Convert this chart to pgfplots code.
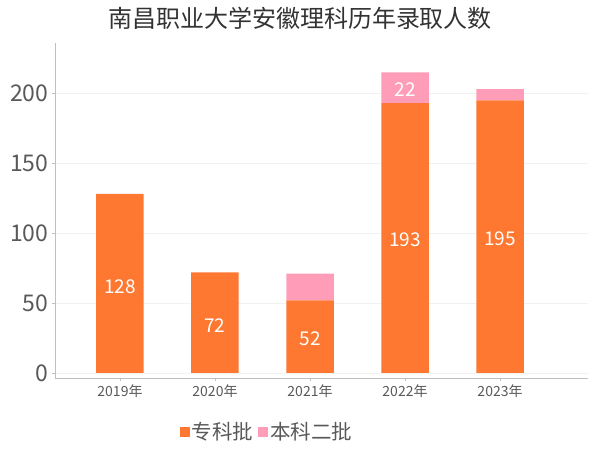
\documentclass[border=0pt]{standalone}
\usepackage{pgfplots}
\pgfplotsset{compat=1.18}
\usepackage{fontspec}
\setmainfont{Noto Sans CJK SC}
\definecolor{cOrange}{HTML}{FF7832}
\definecolor{cPink}{HTML}{FF9DB9}
\definecolor{cText}{HTML}{595959}
\definecolor{cAxis}{HTML}{BFBFBF}
\pgfplotsset{myframe/.style={
  at={(55pt,72pt)}, anchor=south west,
  scale only axis, width=533pt, height=335pt,
  xmin=-0.684, xmax=4.926, ymin=-3.6, ymax=236}}
\begin{document}
\begin{tikzpicture}[x=1pt,y=1pt]
\useasboundingbox (0,0) rectangle (600,450);
\node[text=black!80, font=\fontsize{24}{26}\selectfont] at (300,432) {南昌职业大学安徽理科历年录取人数};
\begin{axis}[
  myframe,
  ybar stacked, bar width=0.5,
  axis x line=bottom, axis y line=left,
  axis line style={draw=cAxis, -},
  tick style={draw=cAxis},
  tick align=outside, major tick length=3pt,
  xtick={0,1,2,3,4},
  xticklabels={2019年,2020年,2021年,2022年,2023年},
  ytick={0,50,100,150,200},
  ymajorgrids, grid style={draw=black!5},
  /pgf/number format/assume math mode=true,
  xticklabel style={text=cText, font=\fontsize{14}{16}\selectfont},
  yticklabel style={text=cText, font=\fontsize{23}{25}\selectfont},
  legend columns=2,
  legend style={draw=none, fill=none, at={(0.398,-0.161)}, anchor=center,
    font=\fontsize{20.5}{22}\selectfont, text=cText,
    /tikz/every even column/.append style={column sep=3pt}},
  legend image code/.code={\fill[#1] (0pt,-5pt) rectangle (10pt,5pt);},
]
\addplot+[fill=cOrange, draw=none] coordinates {(0,128) (1,72) (2,52) (3,193) (4,195)};
\addlegendentry{专科批}
\addplot+[fill=cPink, draw=none] coordinates {(0,0) (1,0) (2,19) (3,22) (4,8)};
\addlegendentry{本科二批}
\end{axis}
\begin{axis}[
  myframe, axis lines=none, ticks=none,
]
\addplot[draw=none, mark=none, point meta=explicit symbolic,
  nodes near coords,
  every node near coord/.append style={text=white, anchor=center,
    font=\fontsize{19}{21}\selectfont}]
  coordinates {(0,62) [128] (1,34) [72] (2,24.5) [52] (3,95) [193] (4,96) [195] (3,203) [22]};
\end{axis}
\end{tikzpicture}
\end{document}
